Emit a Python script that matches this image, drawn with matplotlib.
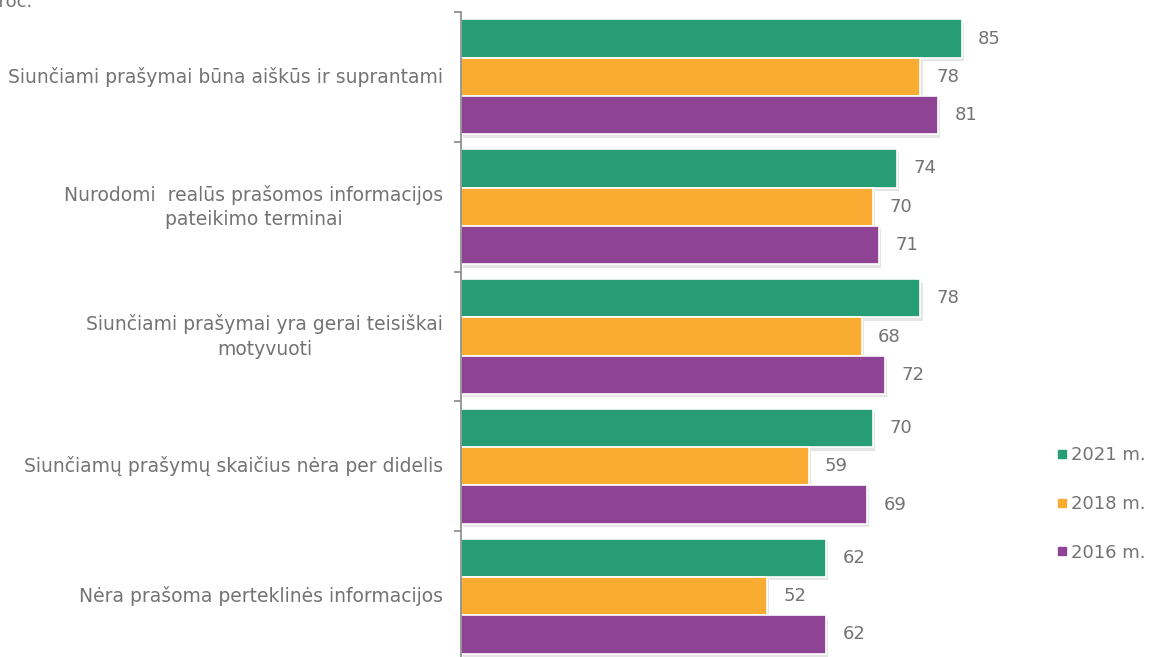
import matplotlib.pyplot as plt
import matplotlib.patheffects as pe
from matplotlib.lines import Line2D
import numpy as np

plt.rcParams['font.family'] = ['DejaVu Sans']

# duomenys
categories = ['Siunčiami prašymai būna aiškūs ir suprantami',
              'Nurodomi  realūs prašomos informacijos\npateikimo terminai',
              'Siunčiami prašymai yra gerai teisiškai\nmotyvuoti',
              'Siunčiamų prašymų skaičius nėra per didelis',
              'Nėra prašoma perteklinės informacijos']
series = ['2021 m.', '2018 m.', '2016 m.']
v2021 = [85, 74, 78, 70, 62]
v2018 = [78, 70, 68, 59, 52]
v2016 = [81, 71, 72, 69, 62]
colors = ['#269D75', '#F8AD32', '#8F4395']
txt_col = '#737373'

fig = plt.figure(figsize=(11.5, 6.57), dpi=100)
ax = fig.add_axes([461 / 1150, -4 / 657, 589 / 1150, 649 / 657])

y = np.arange(len(categories))
h = 0.295
shadow = [pe.SimplePatchShadow(offset=(1.5, -2.5), shadow_rgbFace='#aaaaaa', alpha=0.3), pe.Normal()]
for k, (vals, col) in enumerate(zip([v2021, v2018, v2016], colors)):
    pos = y + (k - 1) * h
    bars = ax.barh(pos, vals, height=h, color=col, edgecolor='white', linewidth=1.2)
    for b in bars:
        b.set_path_effects(shadow)
    for p, v in zip(pos, vals):
        ax.text(v + 2.8, p, str(v), va='center', ha='left', fontsize=13, color=txt_col)

ax.set_xlim(0, 100)
ax.set_ylim(len(categories) - 0.5, -0.5)
ax.set_xticks([])
ax.set_yticks(np.arange(len(categories) + 1) - 0.5)
ax.set_yticklabels([])
ax.tick_params(axis='y', length=5, color='#888888', width=1.2)
for s in ['top', 'right', 'bottom']:
    ax.spines[s].set_visible(False)
ax.spines['left'].set_color('#888888')
ax.spines['left'].set_linewidth(1.2)

# kategorijų pavadinimai
for i, c in enumerate(categories):
    ax.text(-3, i, c, ha='right', va='center', fontsize=13.5, color=txt_col,
            multialignment='center', linespacing=1.35)

handles = [Line2D([], [], marker='s', linestyle='', color=c, markersize=6) for c in colors]
fig.legend(handles, series, loc='center left', bbox_to_anchor=(1048 / 1150, 1 - 504 / 657),
           frameon=False, fontsize=13, labelcolor=txt_col, handlelength=0.6,
           handletextpad=0.2, labelspacing=1.7, borderpad=0)

fig.text(-0.011, 1.01, 'proc.', fontsize=13, color=txt_col, ha='left', va='top')

fig.savefig('out.png', dpi=100)
